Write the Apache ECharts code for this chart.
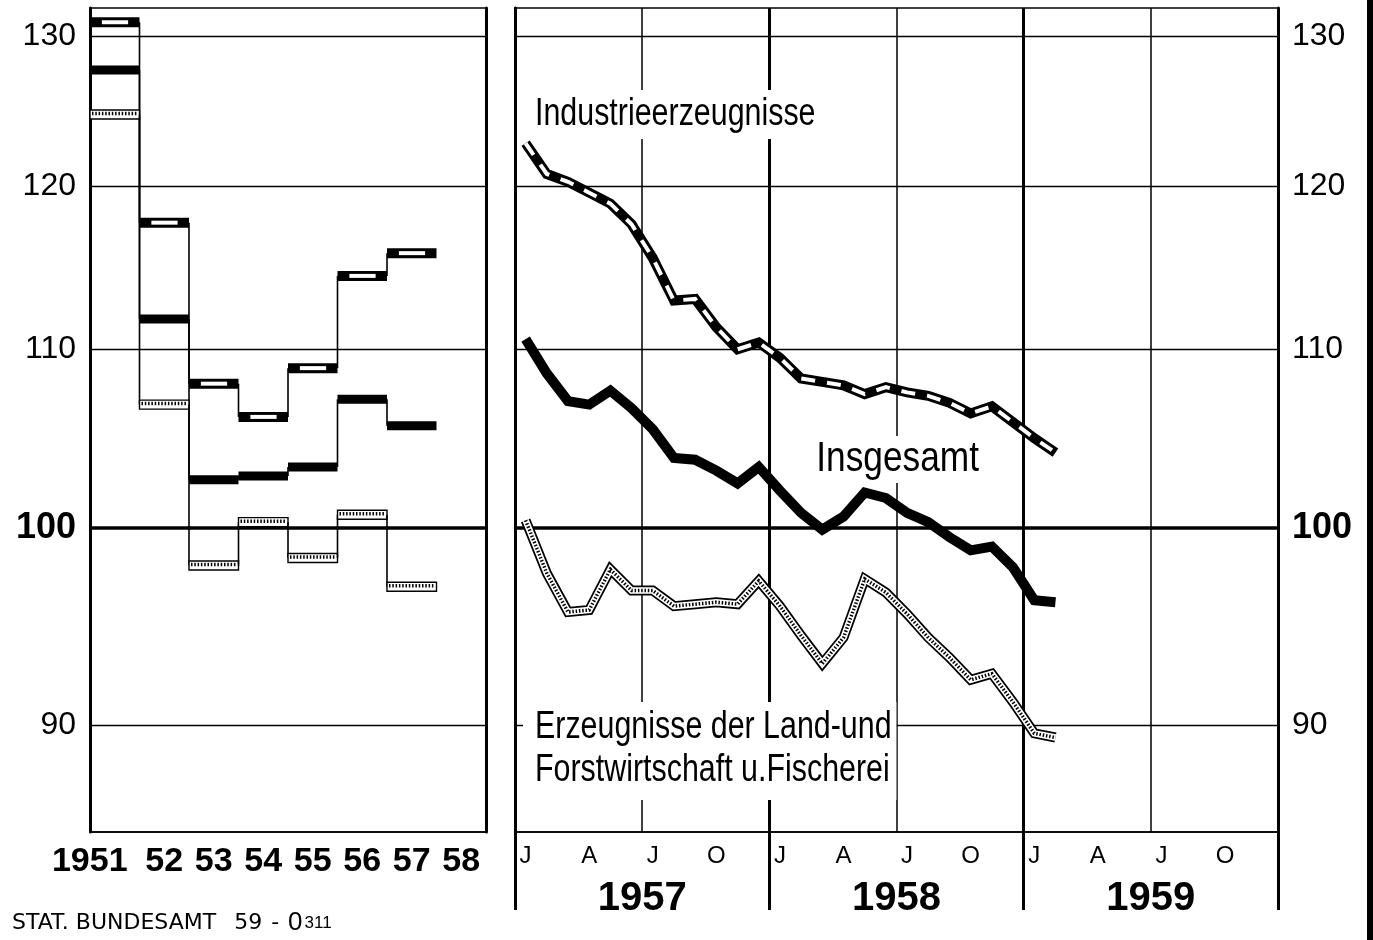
<!DOCTYPE html>
<html>
<head>
<meta charset="utf-8">
<script src="https://cdn.jsdelivr.net/npm/echarts@6/dist/echarts.min.js"></script>
<style>
  html, body { margin: 0; padding: 0; background: #fff; }
  #chart { width: 1373px; height: 940px; }
</style>
</head>
<body>
<div id="chart"></div>
<script>
// jahreswerte 1951-1957 (links)
const years = ['1951', '52', '53', '54', '55', '56', '57', '58'];
const indYear = [131.0, 117.7, 108.0, 106.1, 108.9, 114.4, 115.8];
const insYear = [127.7, 111.8, 102.6, 102.8, 103.3, 107.1, 105.6];
const landYear = [124.7, 106.8, 98.0, 100.3, 98.4, 100.7, 96.9];

// monatswerte Jan 1957 - Feb 1959 (rechts)
const yearLabels = ['1957', '1958', '1959'];
const monthShown = ['J', '', '', 'A', '', '', 'J', '', '', 'O', '', ''];
const indMonth = [122.8, 120.8, 120.3, 119.6, 118.9, 117.6, 115.5, 112.9, 113.0, 111.3, 110.0, 110.4,
  109.5, 108.3, 108.1, 107.9, 107.4, 107.8, 107.5, 107.3, 106.9, 106.3, 106.7, 105.8, 104.9, 104.1];
const insMonth = [110.6, 108.6, 107.0, 106.8, 107.6, 106.6, 105.4, 103.8, 103.7, 103.1, 102.4, 103.3,
  102.0, 100.8, 99.9, 100.6, 101.9, 101.6, 100.8, 100.3, 99.5, 98.8, 99.0, 97.9, 96.2, 96.1];
const landMonth = [100.4, 97.6, 95.6, 95.7, 97.8, 96.7, 96.7, 95.9, 96.0, 96.1, 96.0, 97.2,
  95.9, 94.4, 93.0, 94.3, 97.3, 96.6, 95.5, 94.3, 93.3, 92.2, 92.5, 91.1, 89.6, 89.4];

const yTicks = [90, 100, 110, 120, 130];

const SANS = "'Liberation Sans', Arial, sans-serif";
const BLACK = '#000';

const monthCats = [];
yearLabels.forEach((y) => {
  for (let m = 1; m <= 12; m++) monthCats.push(y + '-' + m);
});

const chart = echarts.init(document.getElementById('chart'));

// treppenbalken fuer die jahreswerte
const stepItem = (values, kind) => (params, api) => {
  const i = params.dataIndex;
  const c = api.coord([i, values[i]]);
  const w = api.size([1, 0], [i, values[i]])[0];
  const x0 = c[0] - w / 2;
  const y = c[1];
  const children = [];
  if (i > 0) {
    const yp = api.coord([i, values[i - 1]])[1];
    children.push({
      type: 'line',
      shape: { x1: x0, y1: yp, x2: x0, y2: y },
      style: { stroke: BLACK, lineWidth: 1.6 },
    });
  }
  if (kind === 'ins') {
    children.push({ type: 'rect', shape: { x: x0, y: y - 4.5, width: w, height: 9 }, style: { fill: BLACK } });
  } else if (kind === 'ind') {
    children.push({ type: 'rect', shape: { x: x0, y: y - 5, width: w, height: 10 }, style: { fill: BLACK } });
    children.push({ type: 'rect', shape: { x: x0 + w * 0.24, y: y - 2, width: w * 0.53, height: 4 }, style: { fill: '#fff' } });
  } else {
    children.push({ type: 'rect', shape: { x: x0, y: y - 4.5, width: w, height: 9 }, style: { fill: '#fff', stroke: BLACK, lineWidth: 1.4 } });
    children.push({ type: 'line', shape: { x1: x0 + 2, y1: y - 1, x2: x0 + w - 2, y2: y - 1 }, style: { stroke: BLACK, lineWidth: 3.5, lineDash: [1.5, 1.8] } });
  }
  return { type: 'group', children };
};

const gridLines = (xi, yi, side) => ({
  type: 'line',
  xAxisIndex: xi,
  yAxisIndex: yi,
  data: [],
  silent: true,
  markLine: {
    z: 1,
    silent: true,
    animation: false,
    symbol: ['none', 'none'],
    label: {
      position: side,
      distance: 14,
      formatter: (p) => (p.value === 100 ? '{b|100}' : '{n|' + p.value + '}'),
      rich: {
        n: { fontFamily: SANS, fontSize: 32, color: BLACK },
        b: { fontFamily: SANS, fontSize: 36, fontWeight: 'bold', color: BLACK },
      },
    },
    data: yTicks.map((v) => ({
      yAxis: v,
      lineStyle: { color: BLACK, type: 'solid', width: v === 100 ? 3.5 : 1.3 },
    })),
  },
});

const monthLine = (data, color, width, dash, z) => ({
  type: 'line',
  xAxisIndex: 1,
  yAxisIndex: 2,
  data: data,
  symbol: 'none',
  silent: true,
  z: z,
  lineStyle: { color: color, width: width, type: dash || 'solid', cap: 'butt', join: 'miter' },
});

const logAxis = (gi) => ({
  type: 'log',
  logBase: 10,
  gridIndex: gi,
  min: 85,
  max: 132,
  axisLine: { show: true, lineStyle: { color: BLACK, width: 3 } },
  axisTick: { show: false },
  axisLabel: { show: false },
  splitLine: { show: false },
});

const borderAxis = (gi) => ({
  type: 'value',
  gridIndex: gi,
  position: 'right',
  axisLine: { show: true, lineStyle: { color: BLACK, width: 3 } },
  axisTick: { show: false },
  axisLabel: { show: false },
  splitLine: { show: false },
});

const noteText = (x, y, sx, text, size, pad) => ({
  type: 'text',
  z: 100,
  x: x,
  y: y,
  scaleX: sx,
  style: {
    text: text,
    font: size + 'px ' + SANS,
    lineHeight: 43,
    fill: BLACK,
    backgroundColor: '#fff',
    padding: pad,
  },
});

const chartOpt = {
  backgroundColor: '#fff',
  animation: false,
  grid: [
    { left: 90, width: 396, top: 8, height: 824, show: true, borderColor: BLACK, borderWidth: 1.5, backgroundColor: '#fff' },
    { left: 515, width: 763, top: 8, height: 824, show: true, borderColor: BLACK, borderWidth: 1.5, backgroundColor: '#fff' },
  ],
  xAxis: [
    {
      type: 'category',
      gridIndex: 0,
      data: years,
      boundaryGap: true,
      axisLine: { onZero: false, lineStyle: { color: BLACK, width: 1.5 } },
      axisTick: { length: 11, interval: 0, lineStyle: { color: BLACK, width: 1.5 } },
      axisLabel: {
        interval: 0,
        margin: 13,
        color: BLACK,
        fontFamily: SANS,
        fontSize: 34,
        fontWeight: 'bold',
        formatter: (v, i) => (i === 0 ? '{w|' + v + '}' : v),
        rich: { w: { fontFamily: SANS, fontSize: 34, fontWeight: 'bold', color: BLACK, padding: [0, 50, 0, 0] } },
      },
      splitLine: { show: false },
    },
    {
      type: 'category',
      gridIndex: 1,
      data: monthCats,
      boundaryGap: true,
      axisLine: { onZero: false, lineStyle: { color: BLACK, width: 1.5 } },
      axisTick: { length: 11, interval: 0, lineStyle: { color: BLACK, width: 1.5 } },
      axisLabel: {
        interval: 0,
        margin: 12,
        color: BLACK,
        fontFamily: SANS,
        fontSize: 24,
        formatter: (v, i) => monthShown[i % 12],
      },
      splitLine: { show: true, interval: (i) => i % 12 === 6, lineStyle: { color: BLACK, width: 1.5 } },
    },
    {
      type: 'category',
      gridIndex: 1,
      position: 'bottom',
      data: yearLabels,
      boundaryGap: true,
      axisLine: { show: false },
      axisTick: { show: true, length: 78, interval: 0, lineStyle: { color: BLACK, width: 3 } },
      axisLabel: { margin: 47, color: BLACK, fontFamily: SANS, fontSize: 40, fontWeight: 'bold' },
      splitLine: { show: true, interval: 0, lineStyle: { color: BLACK, width: 3 } },
    },
  ],
  yAxis: [logAxis(0), borderAxis(0), logAxis(1), borderAxis(1)],
  series: [
    gridLines(0, 0, 'start'),
    gridLines(1, 2, 'end'),
    { type: 'custom', xAxisIndex: 0, yAxisIndex: 0, z: 10, clip: false, silent: true, renderItem: stepItem(indYear, 'ind'), data: indYear.map((v, i) => [i, v]) },
    { type: 'custom', xAxisIndex: 0, yAxisIndex: 0, z: 10, clip: false, silent: true, renderItem: stepItem(insYear, 'ins'), data: insYear.map((v, i) => [i, v]) },
    { type: 'custom', xAxisIndex: 0, yAxisIndex: 0, z: 10, clip: false, silent: true, renderItem: stepItem(landYear, 'land'), data: landYear.map((v, i) => [i, v]) },
    monthLine(indMonth, BLACK, 10, null, 10),
    monthLine(indMonth, '#fff', 4, [14, 12], 11),
    monthLine(insMonth, BLACK, 10, null, 10),
    monthLine(landMonth, BLACK, 10, null, 10),
    monthLine(landMonth, '#fff', 6.5, null, 11),
    monthLine(landMonth, BLACK, 3.5, [1.5, 1.8], 12),
  ],
  graphic: [
    noteText(531, 90, 0.8, 'Industrieerzeugnisse', 38, [3, 5, 3, 5]),
    noteText(813, 436, 0.82, 'Insgesamt', 43, [2, 4, 2, 4]),
    noteText(523, 702, 0.8, 'Erzeugnisse der Land-und\nForstwirtschaft u.Fischerei', 38, [4, 6, 8, 15]),
    {
      type: 'text', z: 100, x: 12, y: 910,
      style: {
        text: '{a|STAT. BUNDESAMT}{d|59}{e|-}{b|0}{c|311}',
        rich: {
          a: { fontFamily: 'DejaVu Sans', fontSize: 22, color: BLACK },
          d: { fontFamily: 'DejaVu Sans', fontSize: 22, color: BLACK, padding: [0, 0, 0, 18] },
          e: { fontFamily: 'DejaVu Sans', fontSize: 22, color: BLACK, padding: [0, 0, 0, 9] },
          b: { fontFamily: SANS, fontSize: 26, color: BLACK, padding: [0, 0, 0, 9] },
          c: { fontFamily: SANS, fontSize: 17, color: BLACK, padding: [0, 0, 0, 2] },
        },
      },
    },
    {
      type: 'rect', z: 100, x: 1367, y: 0,
      shape: { width: 6, height: 940 },
      style: { fill: BLACK },
    },
  ],
};

chart.setOption(chartOpt);
</script>
</body>
</html>
